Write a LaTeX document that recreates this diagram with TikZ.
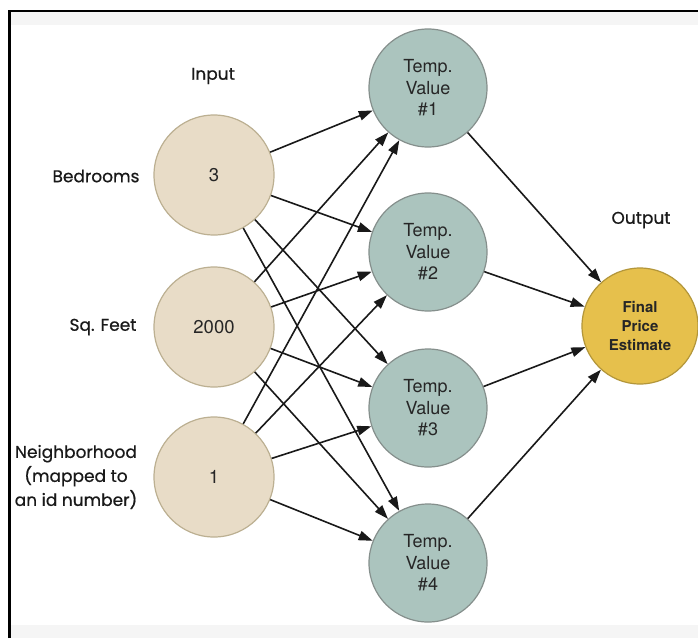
\documentclass[tikz,border=0pt]{standalone}
\usepackage{fontspec}
\setmainfont{TeX Gyre Heros}
\newfontfamily\labelfont[FakeBold=0.6]{Poppins}
\usetikzlibrary{arrows.meta}
\definecolor{inputfill}{HTML}{E8DCC7}
\definecolor{inputline}{HTML}{BCB092}
\definecolor{tempfill}{HTML}{ABC4BE}
\definecolor{templine}{HTML}{858F8C}
\definecolor{outfill}{HTML}{E6C04C}
\definecolor{outline}{HTML}{B3963A}
\definecolor{bandgray}{HTML}{F5F5F5}
\tikzset{
  inputnode/.style={circle, minimum size=120pt, inner sep=0pt, fill=inputfill, draw=inputline, line width=1.2pt, font=\fontsize{18.5}{21}\selectfont, text=black!85},
  tempnode/.style={circle, minimum size=118pt, inner sep=0pt, fill=tempfill, draw=templine, line width=1.2pt, align=center, font=\fontsize{18}{21.5}\selectfont, text=black!85},
  outnode/.style={circle, minimum size=116pt, inner sep=0pt, fill=outfill, draw=outline, line width=1.2pt, align=center, font=\bfseries\fontsize{15}{19}\selectfont, text=black!85},
  sidelabel/.style={font=\labelfont\fontsize{17}{24}\selectfont, text=black!90, align=center},
  link/.style={draw=black!90, line width=1.6pt, -{Triangle[length=14pt,width=9.5pt]}}
}
\begin{document}
\begin{tikzpicture}[x=1pt,y=-1pt]
  % canvas, faint bands and frame
  \fill[white] (0,0) rectangle (698,638);
  \useasboundingbox (0,0) rectangle (698,638);
  \fill[bandgray] (11,12) rectangle (698,25);
  \fill[bandgray] (11,625) rectangle (698,638);
  \draw[black, line width=2.4pt] (9.5,638) -- (9.5,11) -- (698,11);

  % input layer
  \node[inputnode] (bed) at (214,175) {3};
  \node[inputnode] (sqft) at (214,327) {2000};
  \node[inputnode] (hood) at (214,477) {1};

  % hidden layer
  \node[tempnode] (t1) at (428,88) {Temp.\\Value\\\#1};
  \node[tempnode] (t2) at (428,252) {Temp.\\Value\\\#2};
  \node[tempnode] (t3) at (428,408) {Temp.\\Value\\\#3};
  \node[tempnode] (t4) at (428,563) {Temp.\\Value\\\#4};

  % output layer
  \node[outnode] (est) at (640,326) {Final\\Price\\Estimate};

  % labels
  \node[sidelabel] (lin) at (213,76) {Input};
  \node[sidelabel] (lout) at (641,220) {Output};
  \node[sidelabel, anchor=east] (lbed) at (143,176) {Bedrooms};
  \node[sidelabel] (lsq) at (103,327) {Sq. Feet};
  \node[sidelabel] (lhood) at (76,477) {Neighborhood\\(mapped to\\an id number)};

  % connections
  \foreach \a in {bed,sqft,hood}{
    \foreach \b in {t1,t2,t3,t4}{
      \draw[link] (\a) -- (\b);
    }
  }
  \foreach \b in {t1,t2,t3,t4}{
    \draw[link] (\b) -- (est);
  }
\end{tikzpicture}
\end{document}
